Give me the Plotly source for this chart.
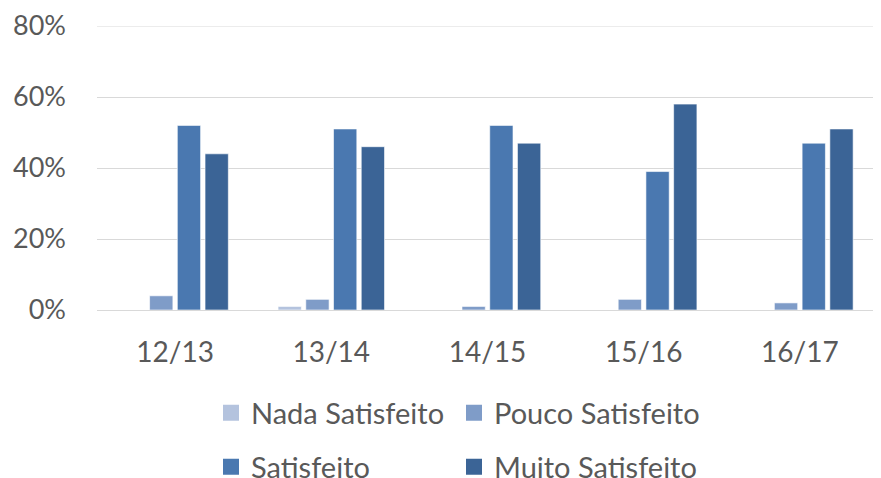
import plotly.graph_objects as go

categories = ["12/13", "13/14", "14/15", "15/16", "16/17"]
nada = [0, 1, 0, 0, 0]
pouco = [4, 3, 1, 3, 2]
satisfeito = [52, 51, 52, 39, 47]
muito = [44, 46, 47, 58, 51]
series_names = ["Nada Satisfeito", "Pouco Satisfeito", "Satisfeito", "Muito Satisfeito"]
colors = ["#B4C3DE", "#7F9CC8", "#4A78B0", "#3B6496"]
y_ticks = [0, 20, 40, 60, 80]

FONT = "Lato"
TXT = "#595959"
GRID = "#D9D9D9"

fig = go.Figure()
legend_ids = ["legend", "legend2", "legend3", "legend4"]
for name, vals, col, lg in zip(series_names, [nada, pouco, satisfeito, muito], colors, legend_ids):
    fig.add_trace(go.Bar(
        x=categories, y=vals, name=name, showlegend=False,
        marker=dict(color=col, line=dict(color="rgba(255,255,255,0.6)", width=1)),
    ))
    # legend proxy with a larger square symbol
    fig.add_trace(go.Scatter(
        x=[None], y=[None], mode="markers", name=name, legend=lg,
        marker=dict(symbol="square", size=18, color=col),
    ))

W, H = 881, 478
leg_pos = [(203, 405), (446, 405), (203, 459), (446, 459)]
leg_common = dict(font=dict(family=FONT, size=29, color=TXT), bgcolor="rgba(0,0,0,0)",
                  xref="container", yref="container", xanchor="left", yanchor="middle",
                  itemwidth=30)

layout_legends = {}
for lg, (px, py) in zip(legend_ids, leg_pos):
    layout_legends[lg] = dict(leg_common, x=px / W, y=1 - py / H)

fig.update_layout(
    width=W, height=H,
    margin=dict(l=89, r=11, t=18, b=176, autoexpand=False),
    plot_bgcolor="white", paper_bgcolor="white",
    barmode="group", bargap=0.29, bargroupgap=0.16,
    font=dict(family=FONT, size=27, color=TXT),
    showlegend=True,
    **layout_legends,
)
# top gridline (at the axis maximum, which plotly omits at the plot edge)
fig.add_shape(type="line", xref="paper", yref="y", x0=0, x1=1,
              y0=y_ticks[-1], y1=y_ticks[-1], line=dict(color=GRID, width=1), layer="below")
fig.update_yaxes(range=[y_ticks[0], y_ticks[-1]], tickvals=y_ticks, ticktext=[f"{v}%" for v in y_ticks],
                 showgrid=True, gridcolor=GRID, gridwidth=1, zeroline=False,
                 showline=False, ticklabelstandoff=30,
                 tickfont=dict(family=FONT, size=27, color=TXT))
fig.update_xaxes(type="category", showline=True, linecolor=GRID, linewidth=1, showgrid=False,
                 ticks="", ticklabelstandoff=17,
                 tickfont=dict(family=FONT, size=28, color=TXT))

fig.write_html("out.html")
